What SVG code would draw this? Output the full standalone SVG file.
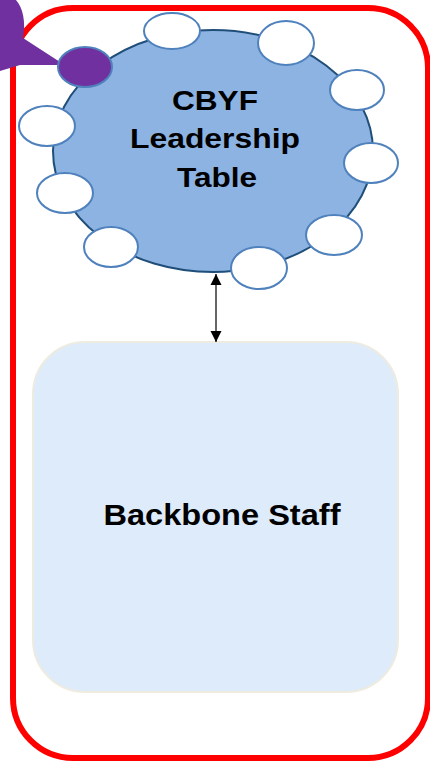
<svg xmlns="http://www.w3.org/2000/svg" width="430" height="763" viewBox="0 0 430 763">
  <defs>
    <style>
      .frame { fill: #ffffff; stroke: #ff0000; stroke-width: 6; }
      .table { fill: #8db3e2; stroke: #1f4e79; stroke-width: 2; }
      .seat { fill: #ffffff; stroke: #4f81bd; stroke-width: 2; }
      .seat-lead { fill: #7030a0; stroke: #4f81bd; stroke-width: 2; }
      .box { fill: #ddebfb; stroke: #eeebe0; stroke-width: 2; }
      .label { font-family: "Liberation Sans", Arial, sans-serif; font-weight: bold; fill: #000000; text-anchor: middle; }
      .link { stroke: #333333; stroke-width: 1.5; fill: none; }
    </style>
    <marker id="arrow" viewBox="0 0 10 10" refX="10" refY="5" markerWidth="11" markerHeight="12" markerUnits="userSpaceOnUse" orient="auto-start-reverse">
      <path d="M0,0 L10,5 L0,10 Z" fill="#000000"/>
    </marker>
  </defs>

  <!-- outer frame -->
  <rect class="frame" x="13" y="8" width="415" height="750" rx="60" ry="60"/>

  <!-- purple callout entering from the corner -->
  <path d="M0,0 L16,0 C23,8 26,22 23,38 L60,62 L58,65 L20,65 L0,71 Z" fill="#7030a0"/>

  <!-- leadership table with seats -->
  <g id="leadership-table">
    <ellipse class="table" cx="213" cy="151" rx="160" ry="121"/>
    <ellipse class="seat" cx="172" cy="31" rx="28" ry="18"/>
    <ellipse class="seat" cx="286" cy="43" rx="28" ry="22"/>
    <ellipse class="seat" cx="357" cy="90" rx="27" ry="20"/>
    <ellipse class="seat" cx="371" cy="163" rx="27" ry="20"/>
    <ellipse class="seat" cx="334" cy="235" rx="28" ry="20"/>
    <ellipse class="seat" cx="259" cy="268" rx="28" ry="21"/>
    <ellipse class="seat" cx="111" cy="247" rx="27" ry="20"/>
    <ellipse class="seat" cx="65" cy="193" rx="28" ry="20"/>
    <ellipse class="seat" cx="47" cy="126" rx="28" ry="20"/>
    <ellipse class="seat-lead" cx="85" cy="67" rx="27" ry="20"/>
    <text class="label" font-size="28" x="215" y="110" textLength="86" lengthAdjust="spacingAndGlyphs">CBYF</text>
    <text class="label" font-size="28" x="215" y="148" textLength="170" lengthAdjust="spacingAndGlyphs">Leadership</text>
    <text class="label" font-size="28" x="217" y="187" textLength="80" lengthAdjust="spacingAndGlyphs">Table</text>
  </g>

  <!-- backbone staff -->
  <g id="backbone-staff">
    <rect class="box" x="33" y="342" width="365" height="350" rx="52" ry="52"/>
    <text class="label" font-size="30" x="222" y="525" textLength="237" lengthAdjust="spacingAndGlyphs">Backbone Staff</text>
  </g>

  <!-- connectors -->
  <g id="connectors">
    <line class="link" x1="216" y1="274" x2="216" y2="342" marker-start="url(#arrow)" marker-end="url(#arrow)"/>
  </g>
</svg>
